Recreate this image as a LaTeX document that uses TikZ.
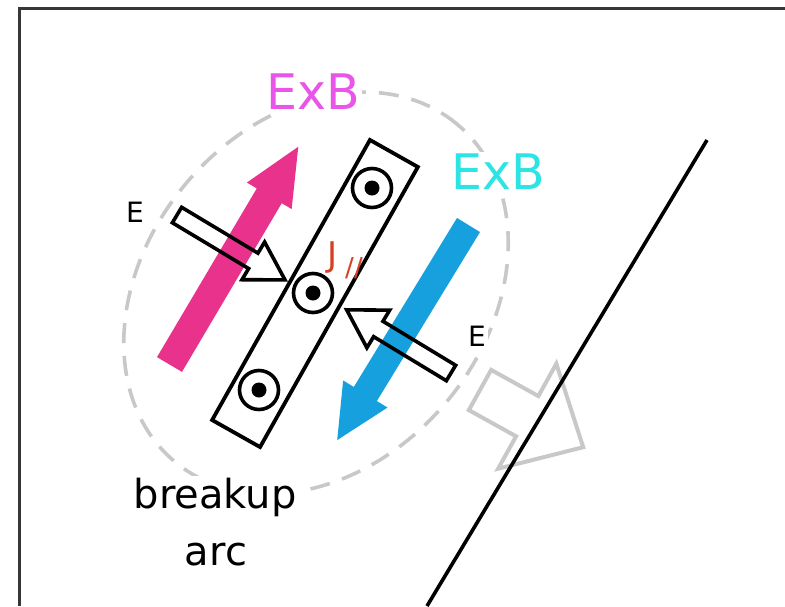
\documentclass[tikz,border=0pt]{standalone}
\usepackage{fontspec}
\setmainfont{DejaVu Sans}
\begin{document}
\begin{tikzpicture}[x=1pt,y=-1pt,line join=miter,
  openarrow/.style={draw=black,line width=3.6pt},
  grayarrow/.style={draw=dashgray,line width=4pt},
  dotring/.style={circle,draw=black,line width=3.6pt,minimum size=39pt,inner sep=0pt},
  dotcore/.style={circle,fill=black,minimum size=15pt,inner sep=0pt},
  lbl/.style={fill=white,inner sep=2pt}]
\definecolor{pinkarrow}{RGB}{232,50,140}
\definecolor{bluearrow}{RGB}{22,160,222}
\definecolor{magtext}{RGB}{232,85,232}
\definecolor{cyantext}{RGB}{45,228,228}
\definecolor{jred}{RGB}{215,65,35}
\definecolor{dashgray}{RGB}{200,200,200}
\definecolor{framegray}{RGB}{55,55,55}
\useasboundingbox (0,0) rectangle (785,606);

% dashed breakup region
\coordinate (ellc) at (316,293);
\draw[dashgray,line width=3.6pt,dash pattern=on 20pt off 13pt]
  (ellc) circle[x radius=220pt,y radius=170pt,rotate=50];

% labels
\node[lbl,text=magtext,font=\fontsize{49}{49}\selectfont] (exbup) at (313,92) {ExB};
\node[lbl,text=cyantext,font=\fontsize{49}{49}\selectfont] (exbdown) at (498,172) {ExB};
\node[lbl,font=\fontsize{28}{28}\selectfont] (eleft) at (135,212) {E};
\node[lbl,font=\fontsize{28}{28}\selectfont] (eright) at (477,336) {E};
\node[lbl,anchor=base,font=\fontsize{40}{40}\selectfont] (brk) at (215,508) {breakup};
\node[lbl,anchor=base,font=\fontsize{40}{40}\selectfont] (arcw) at (216,565) {arc};

% pink ExB arrow (up)
\coordinate (pinktail) at (169.5,364.5);
\begin{scope}[shift={(pinktail)},rotate=59.4]
  \fill[pinkarrow] (0,-14.5) -- (196,-14.5) -- (196,-26) -- (253,0) -- (196,26) -- (196,14.5) -- (0,14.5) -- cycle;
\end{scope}

% blue ExB arrow (down)
\coordinate (bluetail) at (468.5,225);
\begin{scope}[shift={(bluetail)},rotate=238.6]
  \fill[bluearrow] (0,-13.5) -- (198,-13.5) -- (198,-26) -- (252,0) -- (198,26) -- (198,13.5) -- (0,13.5) -- cycle;
\end{scope}

% breakup arc band
\node[draw=black,line width=3.8pt,minimum width=321.5pt,minimum height=55pt,inner sep=0pt,rotate=60.6] (band) at (315,293.5) {};
\node[dotring] (ring1) at (372,188) {};
\node[dotcore] (core1) at (ring1) {};
\node[dotring] (ring2) at (313,293) {};
\node[dotcore] (core2) at (ring2) {};
\node[dotring] (ring3) at (259,390) {};
\node[dotcore] (core3) at (ring3) {};

% J parallel
\node[text=jred,font=\fontsize{34}{34}\selectfont,inner sep=0pt] (jpar) at (333,258) {J};
\node[text=jred,font=\fontsize{26}{26}\selectfont,inner sep=0pt] (parsym) at (354,268) {//};

% E arrows (open)
\coordinate (etailL) at (177,215);
\begin{scope}[shift={(etailL)},rotate=-31]
  \draw[openarrow] (0,-9) -- (89,-9) -- (89,-22) -- (126,0) -- (89,22) -- (89,9) -- (0,9) -- cycle;
\end{scope}
\coordinate (etailR) at (451,373);
\begin{scope}[shift={(etailR)},rotate=148.8]
  \draw[openarrow] (0,-9) -- (85,-9) -- (85,-22) -- (122,0) -- (85,22) -- (85,9) -- (0,9) -- cycle;
\end{scope}

% gray motion arrow
\coordinate (gtail) at (480,390);
\begin{scope}[shift={(gtail)},rotate=-29]
  \draw[grayarrow] (0,-23) -- (54,-23) -- (54,-60) -- (118,0) -- (54,60) -- (54,23) -- (0,23) -- cycle;
\end{scope}

% diagonal boundary line
\coordinate (dtop) at (707,140);
\coordinate (dbot) at (427,606);
\draw[black,line width=3.6pt] (dtop) -- (dbot);

% frame
\coordinate (frbl) at (19,606);
\coordinate (frtr) at (785,8);
\draw[framegray,line width=3pt] (frbl) |- (frtr);
\end{tikzpicture}
\end{document}
